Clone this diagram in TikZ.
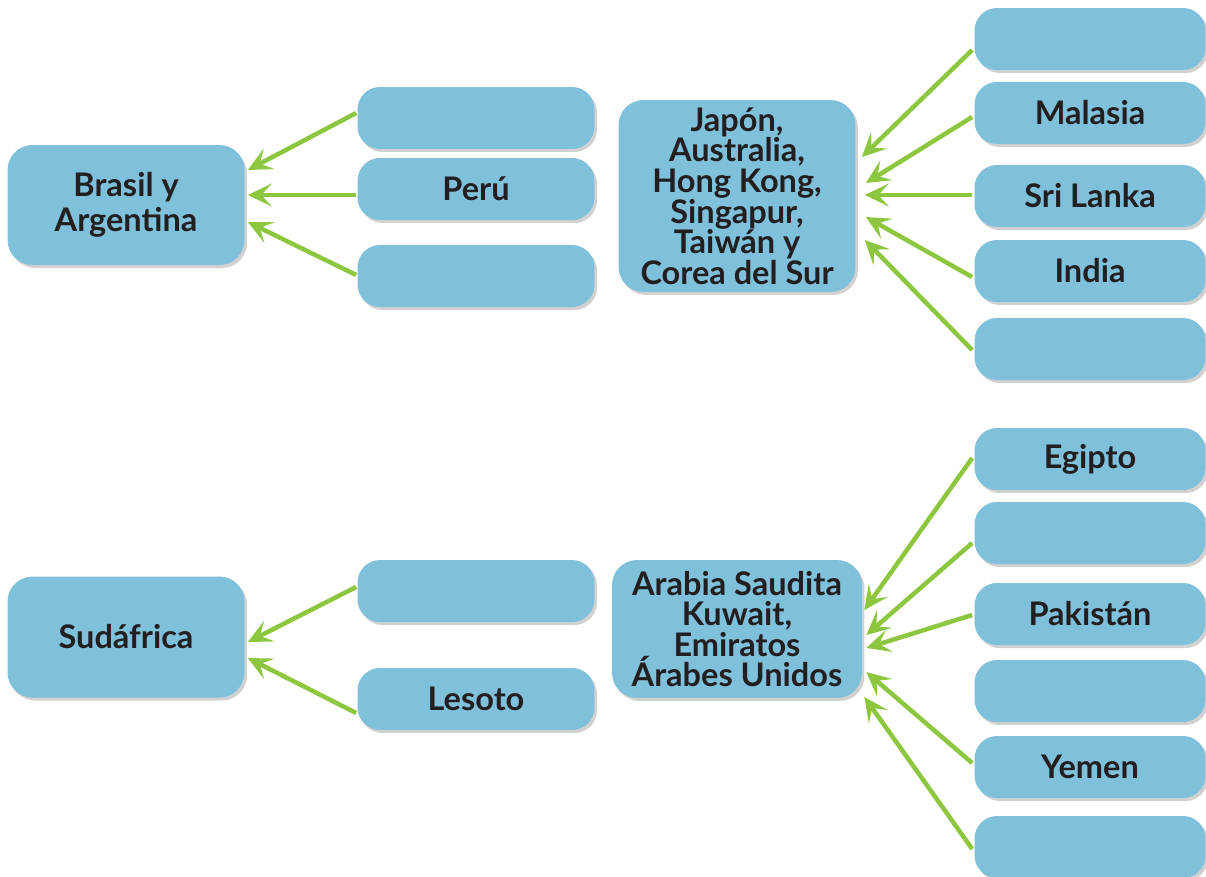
\documentclass[tikz,border=0pt]{standalone}
\usepackage{fontspec}
\setmainfont{Lato}
\usetikzlibrary{arrows.meta,calc,shadows}

\definecolor{cajaazul}{HTML}{7FC0DB}
\definecolor{flechaverde}{HTML}{8DC63F}
\definecolor{textonegro}{HTML}{231F20}

\begin{document}
\begin{tikzpicture}[
    x=0.02cm, y=-0.02cm,
    font=\fontsize{18.5}{17.4}\selectfont\bfseries,
    text=textonegro,
    caja/.style={fill=cajaazul, rounded corners=0.45cm, minimum width=4.74cm, minimum height=1.24cm, inner sep=0pt, align=center,
        drop shadow={shadow xshift=0.05cm, shadow yshift=-0.06cm, fill=black, opacity=0.18}},
    cajader/.style={caja, minimum width=4.62cm},
    grande/.style={caja, rounded corners=0.5cm},
    flecha/.style={-{Stealth[length=0.48cm, width=0.46cm, inset=0.21cm]}, line width=0.09cm, draw=flechaverde}
]
    \useasboundingbox (0,0) rectangle (1206,876);

    % Grupo superior izquierdo
    \node[grande, minimum height=2.4cm] (brasil) at (126,205) {Brasil y\\[2.4pt] Argentina};
    \node[caja] (a1) at (476,118) {};
    \node[caja] (peru) at (476,189) {Perú};
    \node[caja] (a3) at (476,276) {};

    % Grupo superior derecho
    \node[grande, minimum height=3.84cm] (japon) at (737,196) {Japón,\\ Australia,\\ Hong Kong,\\ Singapur,\\ Taiwán y\\ Corea del Sur};
    \node[cajader] (b1) at (1090,39) {};
    \node[cajader] (malasia) at (1090,113) {Malasia};
    \node[cajader] (srilanka) at (1090,196) {Sri Lanka};
    \node[cajader] (india) at (1090,271) {India};
    \node[cajader] (b5) at (1090,349) {};

    % Grupo inferior izquierdo
    \node[grande, minimum height=2.42cm] (sudafrica) at (126,637) {Sudáfrica};
    \node[caja] (c1) at (476,591) {};
    \node[caja] (lesoto) at (476,699) {Lesoto};

    % Grupo inferior derecho
    \node[grande, minimum width=5cm, minimum height=2.76cm] (arabia) at (737,629) {Arabia Saudita\\ Kuwait,\\ Emiratos\\ Árabes Unidos};
    \node[cajader] (egipto) at (1090,459) {Egipto};
    \node[cajader] (d2) at (1090,533) {};
    \node[cajader] (pakistan) at (1090,614) {Pakistán};
    \node[cajader] (d4) at (1090,691) {};
    \node[cajader] (yemen) at (1090,767) {Yemen};
    \node[cajader] (d6) at (1090,847) {};

    % Flechas
    \draw[flecha] ($(a1.west)+(-1,-5)$) -- ($(brasil.east)+(3,-35)$);
    \draw[flecha] ($(peru.west)+(-1,6)$) -- ($(brasil.east)+(3,-10)$);
    \draw[flecha] ($(a3.west)+(-1,-1)$) -- ($(brasil.east)+(3,17)$);

    \draw[flecha] ($(b1.west)+(-2,11)$) -- ($(japon.east)+(6,-39)$);
    \draw[flecha] ($(malasia.west)+(-2,4)$) -- ($(japon.east)+(10,-13)$);
    \draw[flecha] ($(srilanka.west)+(-2,-1)$) -- ($(japon.east)+(9,-1)$);
    \draw[flecha] ($(india.west)+(-2,6)$) -- ($(japon.east)+(10,21)$);
    \draw[flecha] ($(b5.west)+(-2,1)$) -- ($(japon.east)+(9,44)$);

    \draw[flecha] ($(c1.west)+(-1,-4)$) -- ($(sudafrica.east)+(3,5)$);
    \draw[flecha] ($(lesoto.west)+(-1,14)$) -- ($(sudafrica.east)+(3,21)$);

    \draw[flecha] ($(egipto.west)+(-2,-1)$) -- ($(arabia.east)+(2,-19)$);
    \draw[flecha] ($(d2.west)+(-2,10)$) -- ($(arabia.east)+(4,6)$);
    \draw[flecha] ($(pakistan.west)+(-2,1)$) -- ($(arabia.east)+(4,19)$);
    \draw[flecha] ($(yemen.west)+(-2,-4)$) -- ($(arabia.east)+(4,43)$);
    \draw[flecha] ($(d6.west)+(-2,2)$) -- ($(arabia.east)+(2,68)$);

\end{tikzpicture}
\end{document}
